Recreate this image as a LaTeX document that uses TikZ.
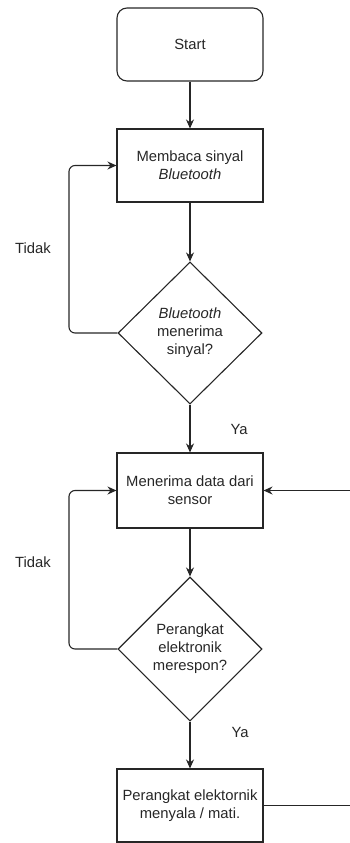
\documentclass[tikz,border=0pt]{standalone}
\usepackage{fontspec}
\setmainfont{Liberation Sans}
\usepackage{tikz}
\usetikzlibrary{positioning,%
  shapes.geometric,%
  arrows.meta,%
  calc
}

\tikzset{
  base/.style={draw=black!85, line width=1.1pt, text=black!85, align=center,
    font=\fontsize{14.8}{18}\selectfont},
  startbox/.style={base, rectangle, rounded corners=10pt, minimum width=146pt, minimum height=73pt},
  procbox/.style={base, rectangle, minimum width=146pt, minimum height=73pt},
  decbox/.style={base, diamond, inner sep=0pt, minimum width=144pt, minimum height=142pt},
  lbl/.style={text=black!85, font=\fontsize{14.8}{18}\selectfont},
  arrow/.style={draw=black!85, line width=1.1pt, -{Stealth[length=9pt,width=8pt]}},
  line/.style={draw=black!85, line width=1.1pt}
}

\begin{document}
\begin{tikzpicture}[x=1pt,y=-1pt]
            \useasboundingbox (0,0) rectangle (350,843);

            % nodes
            \node[startbox] (start) at (190,44.5) {Start};
            \node[procbox] (baca) at (190,165.5) {Membaca sinyal\\\textit{Bluetooth}};
            \node[decbox] (cekbt) at (190,333) {\textit{Bluetooth}\\menerima\\sinyal?};
            \node[procbox, minimum height=75pt] (terima) at (190,490.5) {Menerima data dari\\sensor};
            \node[decbox, minimum height=144pt] (cekalat) at (190,649) {Perangkat\\elektronik\\merespon?};
            \node[procbox] (nyala) at (190,805.5) {Perangkat elektornik\\menyala / mati.};

            % labels
            \node[lbl] (tidak1) at (33,248) {Tidak};
            \node[lbl] (tidak2) at (33,562) {Tidak};
            \node[lbl] (ya1) at (239,429) {Ya};
            \node[lbl] (ya2) at (240,732) {Ya};

            \coordinate (kiri1) at (69,333);
            \coordinate (kiri2) at (69,649);
            \coordinate (masuk) at (350,490.5);
            \coordinate (keluar) at (350,805.5);

            % connectors
            \draw[arrow] (start) -- (baca);
            \draw[arrow] (baca) -- (cekbt);
            \draw[arrow] (cekbt) -- (terima);
            \draw[arrow] (terima) -- (cekalat);
            \draw[arrow] (cekalat) -- (nyala);
            \draw[arrow, rounded corners=6pt] (cekbt.west) -- (kiri1) |- (baca.west);
            \draw[arrow, rounded corners=6pt] (cekalat.west) -- (kiri2) |- (terima.west);
            \draw[arrow] (masuk) -- (terima.east);
            \draw[line] (nyala.east) -- (keluar);
        \end{tikzpicture}
\end{document}
